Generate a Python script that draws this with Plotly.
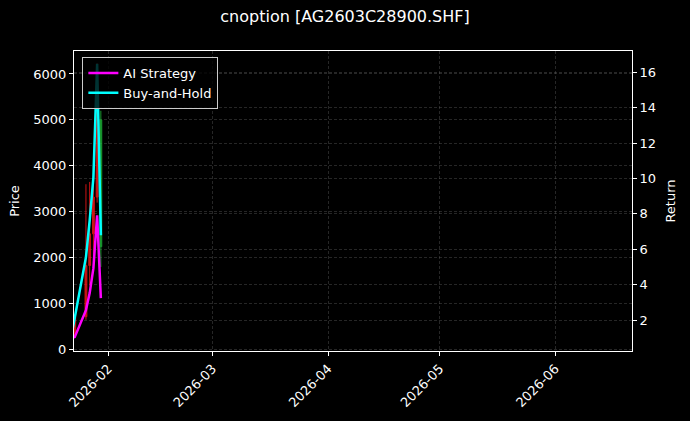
import plotly.graph_objects as go

# daily data for the contract
dates = ["2026-01-22", "2026-01-23", "2026-01-26", "2026-01-27",
         "2026-01-28", "2026-01-29", "2026-01-30"]
price_open = [300, 330, 716, 1830, 2520, 3320, 5000]
price_high = [360, 760, 3600, 3650, 4000, 6240, 5200]
price_low = [280, 300, 650, 1400, 1960, 3200, 1800]
price_close = [330, 716, 1830, 2520, 3320, 5440, 2240]

ai_return = [1.0, 1.04, 2.56, 3.52, 4.93, 7.92, 3.24]
bh_return = [1.0, 2.17, 5.55, 7.63, 10.06, 16.48, 6.79]

x_range = ["2026-01-22 19:00", "2026-06-21 14:00"]
x_ticks = ["2026-02-01", "2026-03-01", "2026-04-01", "2026-05-01", "2026-06-01"]
x_ticklabels = ["2026-02", "2026-03", "2026-04", "2026-05", "2026-06"]

font = "DejaVu Sans"
grid = "rgba(110,110,110,0.35)"

fig = go.Figure()

fig.add_trace(go.Candlestick(
    x=dates, open=price_open, high=price_high, low=price_low, close=price_close,
    increasing=dict(line=dict(color="#ff1a1a", width=1), fillcolor="#ff1a1a"),
    decreasing=dict(line=dict(color="#1fbf3a", width=1), fillcolor="#1fbf3a"),
    opacity=0.8, whiskerwidth=0, showlegend=False, yaxis="y",
))

fig.add_trace(go.Scatter(
    x=dates, y=ai_return, mode="lines", name="AI Strategy",
    line=dict(color="#ff00ff", width=2.5), yaxis="y2",
))
fig.add_trace(go.Scatter(
    x=dates, y=bh_return, mode="lines", name="Buy-and-Hold",
    line=dict(color="#00ffff", width=2.5), yaxis="y2",
))

axis_common = dict(
    ticks="outside", ticklen=4, tickcolor="#ffffff",
    showline=True, linecolor="#ffffff", linewidth=1,
    showgrid=True, gridcolor=grid, griddash="3px,2px", gridwidth=0.5,
    zeroline=False, tickfont=dict(size=13),
)

fig.update_layout(
    width=690, height=421,
    paper_bgcolor="#000000", plot_bgcolor="#000000",
    margin=dict(l=74, r=58, t=51, b=70),
    font=dict(family=font, size=13, color="#ffffff"),
    title=dict(text="cnoption [AG2603C28900.SHF]", x=0.5, xanchor="center",
               y=0.975, yanchor="top", font=dict(size=16, color="#ffffff")),
    showlegend=True,
    legend=dict(x=0.015, y=0.98, xanchor="left", yanchor="top",
                bgcolor="rgba(0,0,0,0.8)", bordercolor="#cccccc", borderwidth=1,
                font=dict(size=13, color="#ffffff"), tracegroupgap=0),
    xaxis=dict(
        type="date", range=x_range, tickvals=x_ticks, ticktext=x_ticklabels,
        tickangle=-45, mirror=True, rangeslider=dict(visible=False),
        **axis_common,
    ),
    yaxis=dict(
        title=dict(text="Price", standoff=10, font=dict(size=13)),
        range=[-30, 6500], tickvals=[0, 1000, 2000, 3000, 4000, 5000, 6000],
        **axis_common,
    ),
    yaxis2=dict(
        title=dict(text="Return", standoff=10, font=dict(size=13)),
        range=[0.25, 17.2], tickvals=[2, 4, 6, 8, 10, 12, 14, 16],
        overlaying="y", side="right",
        **axis_common,
    ),
)

fig.write_html(
    "out.html",
    config={"displayModeBar": False},
    post_script="document.body.style.margin='0';document.body.style.overflow='hidden';",
)
